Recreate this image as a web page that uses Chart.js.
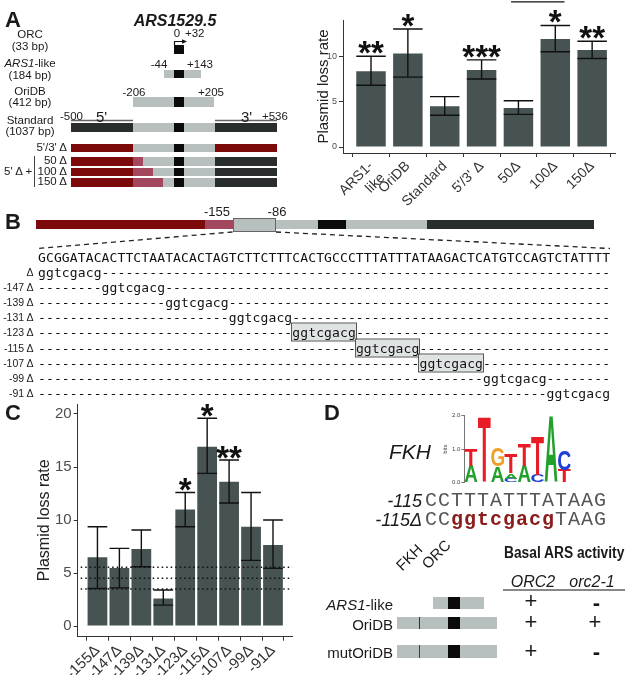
<!DOCTYPE html>
<html>
<head>
<meta charset="utf-8">
<script src="https://cdn.jsdelivr.net/npm/chart.js@4.4.1/dist/chart.umd.min.js"></script>
<style>
  body { margin: 0; background: #fff; }
  #fig { position: relative; width: 630px; height: 675px; overflow: hidden;
         font-family: "Liberation Sans", Arial, sans-serif; color: #1a1a1a; }
  #fig canvas, #fig svg { position: absolute; }
  .t { position: absolute; white-space: nowrap; line-height: 1; }
  .b { position: absolute; box-sizing: border-box; }
  .mono { font-family: "DejaVu Sans Mono", monospace; font-size: 13px; letter-spacing: 0.12px; color: #111; }
  .hl { background: #dfe3e3; outline: 1px solid #555; padding: 1px 0; }
</style>
</head>
<body>
<div id="fig">
  <canvas id="chartA" width="340" height="232" style="left:290px;top:0"></canvas>
  <canvas id="chartC" width="320" height="285" style="left:0;top:390px"></canvas>
  <canvas id="logo" width="145" height="85" style="left:430px;top:405px"></canvas>
  <svg id="lines" width="630" height="675" style="left:0;top:0"></svg>
</div>
<script>
// panel A bar chart
const labelsA = [["ARS1-", "like"], "OriDB", "Standard", "5'/3' Δ", "50Δ", "100Δ", "150Δ"];
const meanA = [8.35, 10.3, 4.5, 8.5, 4.3, 11.9, 10.7];
const lowA = [6.8, 7.7, 3.5, 7.5, 3.6, 10.5, 9.75];
const highA = [10.0, 13.0, 5.55, 9.6, 5.1, 13.4, 11.65];
const starsA = ["**", "*", "", "***", "", "*", "**"];
const ticksA = [0, 5, 10];

// panel C bar chart
const labelsC = ["-155Δ", "-147Δ", "-139Δ", "-131Δ", "-123Δ", "-115Δ", "-107Δ", "-99Δ", "-91Δ"];
const meanC = [6.48, 5.47, 7.26, 2.6, 11.0, 16.9, 13.6, 9.37, 7.64];
const lowC = [3.55, 3.6, 5.6, 1.98, 9.37, 14.4, 11.6, 6.2, 5.44];
const highC = [9.37, 7.33, 9.06, 3.4, 12.6, 19.6, 15.66, 12.6, 10.0];
const starsC = ["", "", "", "", "*", "*", "**", "", ""];
const refLinesC = [5.55, 4.5, 3.5];
const ticksC = [0, 5, 10, 15, 20];

// panel D sequence logo (bits per position, bottom to top)
const logoPositions = [1, 2, 3, 4, 5, 6, 7, 8];
const logoLetters1 = ["A", "T", "A", "C", "A", "C", "A", "T"];
const logoBits1 = [0.5, 1.95, 0.48, 0.12, 0.5, 0.23, 2.0, 0.38];
const logoLetters2 = ["T", "", "G", "A", "T", "T", "", "C"];
const logoBits2 = [0.5, 0, 0.55, 0.16, 0.66, 1.17, 0, 0.6];
const logoLetters3 = ["", "", "", "T", "", "", "", ""];
const logoBits3 = [0, 0, 0, 0.57, 0, 0, 0, 0];
const logoTicks = [0, 1, 2];

const BAR = "#475353";
const GRAY = "#b8c0bf", DARK = "#2a2d2d", BLK = "#0b0b0b", RED = "#7c0a0a", PINK = "#a3475f";
const letterColors = { A: "#22a02c", C: "#1c3fd6", G: "#f0a028", T: "#e81c24" };

Chart.defaults.font.family = '"Liberation Sans", Arial, sans-serif';

const errorBars = {
  id: "errorBars",
  afterDatasetsDraw(chart, args, opts) {
    const ctx = chart.ctx, y = chart.scales.y, x = chart.scales.x;
    ctx.save();
    if (opts.refLines) {
      ctx.setLineDash([1.5, 3]);
      ctx.lineWidth = 1.5;
      ctx.strokeStyle = "#111";
      opts.refLines.forEach(v => {
        const py = y.getPixelForValue(v);
        ctx.beginPath();
        ctx.moveTo(chart.chartArea.left + 3, py);
        ctx.lineTo(chart.chartArea.right, py);
        ctx.stroke();
      });
      ctx.setLineDash([]);
    }
    ctx.strokeStyle = "#111";
    ctx.lineWidth = 1.4;
    ctx.fillStyle = "#111";
    ctx.font = 'bold 33px "Liberation Sans", Arial';
    ctx.textAlign = "center";
    ctx.textBaseline = "alphabetic";
    chart.getDatasetMeta(0).data.forEach((bar, i) => {
      const hw = bar.width / 2;
      const yl = y.getPixelForValue(opts.low[i]);
      const yh = y.getPixelForValue(opts.high[i]);
      ctx.beginPath();
      ctx.moveTo(bar.x, yl); ctx.lineTo(bar.x, yh);
      ctx.moveTo(bar.x - hw, yl); ctx.lineTo(bar.x + hw, yl);
      ctx.moveTo(bar.x - hw, yh); ctx.lineTo(bar.x + hw, yh);
      ctx.stroke();
      if (opts.stars[i]) ctx.fillText(opts.stars[i], bar.x, yh - opts.starGap + 18);
    });
    if (opts.bracket) {
      const py = y.getPixelForValue(opts.bracket[2]);
      ctx.beginPath();
      ctx.moveTo(x.getPixelForValue(opts.bracket[0]), py);
      ctx.lineTo(x.getPixelForValue(opts.bracket[1]), py);
      ctx.stroke();
    }
    ctx.restore();
  }
};

function barChart(id, labels, mean, opt) {
  const xs = labels.map((_, i) => i + 1);
  return new Chart(document.getElementById(id), {
    type: "bar",
    data: { datasets: [{ data: mean.map((v, i) => ({ x: i + 1, y: v })), backgroundColor: BAR,
      barPercentage: opt.barPct, categoryPercentage: 1 }] },
    options: {
      responsive: false, animation: false,
      layout: { padding: opt.padding },
      plugins: { legend: { display: false }, tooltip: { enabled: false }, errorBars: opt.err },
      scales: {
        x: {
          type: "linear", offset: false, min: opt.xmin, max: opt.xmax,
          afterBuildTicks: s => { s.ticks = xs.map(v => ({ value: v })); },
          ticks: { callback: v => labels[v - 1], minRotation: 45, maxRotation: 45, autoSkip: false,
            font: { size: opt.xFont }, color: "#333", padding: 1 },
          grid: { drawOnChartArea: false, tickLength: 4, color: "#333" },
          border: { color: "#333" },
          afterFit: s => { s.height = opt.xHeight; }
        },
        y: {
          min: opt.ymin, max: opt.ymax,
          afterBuildTicks: s => { s.ticks = opt.yticks.map(v => ({ value: v })); },
          ticks: { font: { size: opt.yFont }, color: "#4d4d4d", padding: 2 },
          grid: { drawOnChartArea: false, tickLength: 4, color: "#333" },
          border: { color: "#333" },
          title: { display: true, text: "Plasmid loss rate", font: { size: opt.titleFont }, color: "#222", padding: 4 },
          afterFit: s => { s.width = opt.yWidth; }
        }
      }
    },
    plugins: [errorBars]
  });
}

barChart("chartA", labelsA, meanA, {
  barPct: 0.8, xmin: 0.24, xmax: 7.62, ymin: -0.66, ymax: 14, yticks: ticksA,
  padding: { left: 21, top: 20, right: 15 }, xHeight: 79, yWidth: 32,
  xFont: 14, yFont: 9, titleFont: 15,
  err: { low: lowA, high: highA, stars: starsA, starGap: 10, bracket: [4.8, 6.25, 16.0] }
});

barChart("chartC", labelsC, meanC, {
  barPct: 0.9, xmin: 0.1, xmax: 9.88, ymin: -1.0, ymax: 20.94, yticks: ticksC,
  padding: { left: 31.4, top: 14, right: 27.7 }, xHeight: 38.3, yWidth: 46.3,
  xFont: 15, yFont: 15, titleFont: 16,
  err: { low: lowC, high: highC, stars: starsC, starGap: 9, refLines: refLinesC }
});

// sequence logo drawn into stacked bar rectangles
const logoPlugin = {
  id: "logoLetters",
  afterDatasetsDraw(chart) {
    const ctx = chart.ctx;
    chart.data.datasets.forEach((ds, di) => {
      chart.getDatasetMeta(di).data.forEach((el, i) => {
        const ch = ds.letters[i];
        if (!ch || !ds.data[i]) return;
        const top = Math.min(el.y, el.base), h = Math.abs(el.base - el.y);
        ctx.save();
        ctx.font = 'bold 100px "Liberation Sans", Arial';
        const m = ctx.measureText(ch);
        const gw = m.actualBoundingBoxLeft + m.actualBoundingBoxRight;
        const gh = m.actualBoundingBoxAscent + m.actualBoundingBoxDescent;
        ctx.translate(el.x - el.width / 2, top + h);
        ctx.scale(el.width / gw, h / gh);
        ctx.fillStyle = letterColors[ch];
        ctx.textAlign = "left";
        ctx.textBaseline = "alphabetic";
        ctx.fillText(ch, m.actualBoundingBoxLeft, -m.actualBoundingBoxDescent);
        ctx.restore();
      });
    });
  }
};

new Chart(document.getElementById("logo"), {
  type: "bar",
  data: {
    labels: logoPositions,
    datasets: [
      { data: logoBits1, letters: logoLetters1 },
      { data: logoBits2, letters: logoLetters2 },
      { data: logoBits3, letters: logoLetters3 }
    ].map(d => Object.assign(d, { backgroundColor: "rgba(0,0,0,0)", barPercentage: 1, categoryPercentage: 0.96 }))
  },
  options: {
    responsive: false, animation: false,
    layout: { padding: { left: 11.4, top: 10.7, right: 4, bottom: 7.3 } },
    plugins: { legend: { display: false }, tooltip: { enabled: false } },
    scales: {
      x: { display: false, stacked: true },
      y: {
        stacked: true, min: 0, max: 2,
        afterBuildTicks: s => { s.ticks = logoTicks.map(v => ({ value: v })); },
        ticks: { callback: v => Number(v).toFixed(1), font: { size: 6 }, color: "#444", padding: 1 },
        grid: { drawOnChartArea: false, tickLength: 3, color: "#777" },
        border: { color: "#777" },
        title: { display: true, text: "bits", font: { size: 6 }, color: "#444", padding: 0 },
        afterFit: s => { s.width = 22.9; }
      }
    }
  },
  plugins: [logoPlugin]
});

// ---- schematic parts ----
const fig = document.getElementById("fig");
function txt(html, x, y, css, align, extra) {
  const d = document.createElement("div");
  d.className = "t";
  d.innerHTML = html;
  d.style.cssText = (css || "") + ";left:" + x + "px;top:" + y + "px";
  const tx = align === "c" ? "-50%" : align === "r" ? "-100%" : "0";
  d.style.transform = "translate(" + tx + ",-50%)" + (extra || "");
  fig.appendChild(d);
  return d;
}
function rect(x1, y1, x2, y2, color, css) {
  const d = document.createElement("div");
  d.className = "b";
  d.style.cssText = "left:" + x1 + "px;top:" + y1 + "px;width:" + (x2 - x1) + "px;height:" + (y2 - y1) +
    "px;background:" + color + ";" + (css || "");
  fig.appendChild(d);
  return d;
}

// panel A schematic
txt("A", 5, 20, "font-weight:bold;font-size:22px");
txt("ARS1529.5", 175, 21, "font-weight:bold;font-style:italic;font-size:16px", "c");
const L = "font-size:11.5px";
txt("ORC", 30, 35, L, "c"); txt("(33 bp)", 30, 47, L, "c");
txt("<i>ARS1</i>-like", 30, 64, L, "c"); txt("(184 bp)", 30, 75.5, L, "c");
txt("OriDB", 30, 91.5, L, "c"); txt("(412 bp)", 30, 103, L, "c");
txt("Standard", 30, 120.5, L, "c"); txt("(1037 bp)", 30, 132, L, "c");
txt("0", 177, 34, L, "c"); txt("+32", 185, 34, L);
txt("-44", 159, 65, L, "c"); txt("+143", 200, 65, L, "c");
txt("-206", 134, 93, L, "c"); txt("+205", 211, 93, L, "c");
txt("-500", 60, 116.5, L); txt("5'", 96, 115.5, "font-size:15px");
txt("3'", 241, 115.5, "font-size:15px"); txt("+536", 262, 116.5, L);
txt("5'/3' Δ", 67, 147.5, L, "r"); txt("50 Δ", 67, 161, L, "r");
txt("100 Δ", 67, 171.5, L, "r"); txt("150 Δ", 67, 182, L, "r");
txt("5' Δ +", 4, 171.5, L);

rect(174, 45, 184, 53.5, BLK);
rect(164, 69.5, 200.7, 78, GRAY); rect(174, 69.5, 184, 78, BLK);
rect(132.7, 97, 214.3, 106.5, GRAY); rect(174, 97, 184, 106.5, BLK);
[
  { y: 123, a: DARK, c: DARK, pink: 0 },
  { y: 143.5, a: RED, c: RED, pink: 0 },
  { y: 157, a: RED, c: DARK, pink: 10 },
  { y: 167.5, a: RED, c: DARK, pink: 20 },
  { y: 178, a: RED, c: DARK, pink: 30 }
].forEach(r => {
  rect(71, r.y, 133, r.y + 8.8, r.a);
  rect(133, r.y, 215, r.y + 8.8, GRAY);
  if (r.pink) rect(133, r.y, 133 + r.pink, r.y + 8.8, PINK);
  rect(215, r.y, 277, r.y + 8.8, r.c);
  rect(174, r.y, 184, r.y + 8.8, BLK);
});

// panel B
txt("B", 5, 222, "font-weight:bold;font-size:22px");
txt("-155", 217, 211, "font-size:13px", "c");
txt("-86", 277, 211, "font-size:13px", "c");
rect(36, 220, 205, 228.5, RED); rect(205, 220, 232.5, 228.5, PINK);
rect(232.5, 220, 318.3, 228.5, GRAY); rect(318.3, 220, 345.7, 228.5, BLK);
rect(345.7, 220, 426.7, 228.5, GRAY); rect(426.7, 220, 594.5, 228.5, DARK);
rect(232.5, 218, 276, 232, GRAY, "border:1px solid #666");

const seq = "GCGGATACACTTCTAATACACTAGTCTTCTTTCACTGCCCTTTATTTATAAGACTCATGTCCAGTCTATTTT";
txt(seq, 38, 257, "").className = "t mono";
const delLabels = ["Δ", "-147 Δ", "-139 Δ", "-131 Δ", "-123 Δ", "-115 Δ", "-107 Δ", "-99 Δ", "-91 Δ"];
delLabels.forEach((lab, i) => {
  const y = 272 + i * 15.1;
  txt(lab, 33.5, y, "font-size:10.5px;color:#222", "r");
  const site = (i >= 4 && i <= 6) ? '<span class="hl">ggtcgacg</span>' : "ggtcgacg";
  const row = "-".repeat(8 * i) + site + "-".repeat(72 - 8 * (i + 1));
  txt(row, 38, y, "").className = "t mono";
});

// panel C / D letters
txt("C", 5, 413, "font-weight:bold;font-size:22px");
txt("D", 324, 413, "font-weight:bold;font-size:22px");
txt("FKH", 410, 450.5, "font-style:italic;font-size:21px", "c");
const SEQF = 'font-family:"Liberation Mono",monospace;font-size:20px;letter-spacing:1px;color:#555';
txt("-115", 422, 501, "font-style:italic;font-size:18px", "r");
txt("CCTTTATTTATAAG", 425, 501, SEQF);
txt("-115Δ", 422, 519.5, "font-style:italic;font-size:18px", "r");
txt('CC<b style="color:#8c1c1c">ggtcgacg</b>TAAG', 425, 519.5, SEQF);

txt("FKH", 409, 557, "font-size:15px", "c", " rotate(-45deg)");
txt("ORC", 436, 554, "font-size:15px", "c", " rotate(-45deg)");
txt("Basal ARS activity", 504, 553, "font-weight:bold;font-size:16px;transform-origin:0 50%", "", " scaleX(0.86)");
txt("ORC2", 533, 581.5, "font-style:italic;font-size:16px", "c");
txt("orc2-1", 592, 581.5, "font-style:italic;font-size:16px", "c");
txt("<i>ARS1</i>-like", 393, 603.5, "font-size:15px", "r");
txt("OriDB", 393, 623.5, "font-size:15px", "r");
txt("mutOriDB", 393, 651.5, "font-size:15px", "r");
const PM = "font-size:22px";
txt("+", 531, 601, PM, "c"); txt("-", 596.5, 603, PM + ";font-weight:bold", "c");
txt("+", 531, 621.5, PM, "c"); txt("+", 595, 621.5, PM, "c");
txt("+", 531, 651, PM, "c"); txt("-", 596.5, 652, PM + ";font-weight:bold", "c");

rect(433, 596.7, 484, 609, GRAY); rect(448, 596.7, 460, 609, BLK);
rect(396.7, 616.7, 496.7, 629, GRAY); rect(448, 616.7, 460, 629, BLK); rect(418.5, 616.7, 420, 629, "#333");
rect(396.7, 645, 496.7, 657.7, GRAY); rect(448, 645, 460, 657.7, BLK); rect(418.5, 645, 420, 657.7, "#a01818");

// connector and guide lines
document.getElementById("lines").innerHTML = `
  <g stroke="#222" stroke-width="1.3" stroke-dasharray="5 4" fill="none">
    <line x1="232.5" y1="232" x2="38" y2="248.5"/>
    <line x1="276" y1="232" x2="610" y2="248.5"/>
  </g>
  <g stroke="#666" stroke-width="1.5">
    <line x1="71" y1="120.5" x2="133" y2="120.5"/>
    <line x1="215" y1="120.5" x2="277" y2="120.5"/>
  </g>
  <line x1="34.5" y1="156" x2="34.5" y2="187" stroke="#444" stroke-width="1"/>
  <path d="M174.5 45 V41.5 H183" stroke="#111" stroke-width="1.2" fill="none"/>
  <path d="M182 39.3 L187 41.5 L182 43.7 Z" fill="#111"/>
  <line x1="503" y1="590" x2="625" y2="590" stroke="#111" stroke-width="1"/>
`;
</script>
</body>
</html>
